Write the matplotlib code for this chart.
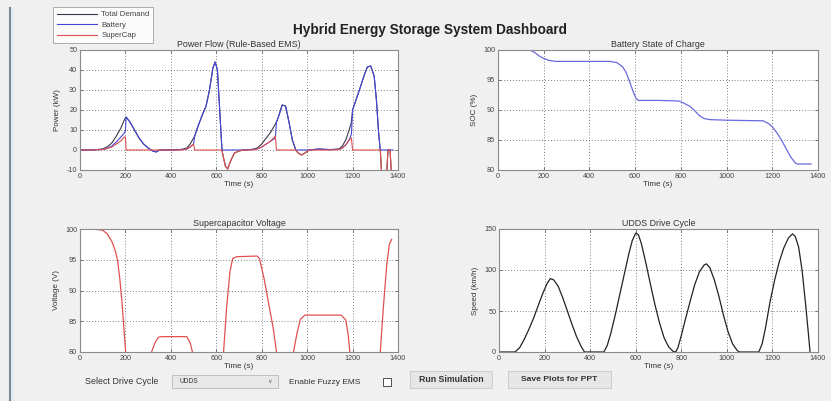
import matplotlib
matplotlib.use("Agg")
import matplotlib.pyplot as plt
from matplotlib.patches import Rectangle
from matplotlib.lines import Line2D

plt.rcParams["font.family"] = ["Liberation Sans", "DejaVu Sans"]
plt.rcParams["axes.unicode_minus"] = False

# Power flow (kW)
t_power = [0, 50, 100, 120, 140, 160, 180, 195, 200, 203, 220, 240, 260, 280, 300, 320, 335, 350,
           400, 450, 470, 485, 495, 500, 505, 520, 540, 555, 570, 585, 595, 605, 615, 625,
           630, 640, 650, 665, 680, 700, 720, 760, 780, 800, 820, 840, 860, 865, 875, 890,
           905, 920, 935, 950, 960, 975, 990, 1010, 1050, 1100, 1140, 1155, 1170, 1185, 1195,
           1200, 1215, 1230, 1250, 1265, 1280, 1295, 1305, 1315, 1322, 1328, 1350, 1356, 1365,
           1371, 1378]
demand = [0, 0, 0.5, 1.6, 3.5, 7, 11, 15, 16, 16.5, 14, 10, 6, 3, 1, -0.5, -1, 0,
          0, 0.3, 1, 3, 5, 6, 7, 12, 18, 22, 30, 41, 44, 40, 20, 0,
          -3, -8, -9.5, -5, -1.5, -0.5, 0, 0.3, 1, 3, 6, 9, 13, 14, 17, 22.5,
          22, 14, 5, 0, -1.5, -2.5, -1.5, 0, 0.5, 0.2, 0.5, 2, 5, 10, 14,
          20, 25, 30, 37, 41.5, 42, 37, 25, 8, 0, -12, -12, 0, 0,
          -12, -12]
battery = [0, 0, 0.3, 0.8, 2, 4, 6.5, 8.5, 9.5, 16.5, 14, 10, 6, 3, 1, -0.5, -1, 0,
           0, 0.3, 0.5, 1.5, 2.5, 3, 7, 12, 18, 22, 30, 41, 44, 40, 20, 0,
           0, 0, 0, 0, 0, 0, 0, 0.3, 0.5, 1.5, 3, 4.5, 6, 14, 17, 22.5,
           22, 14, 5, 0, 0, 0, 0, 0, 0.5, 0.2, 0.3, 1, 2.5, 5, 8,
           20, 25, 30, 37, 41.5, 42, 37, 25, 8, 0, 0, 0, 0, 0,
           0, 0]
supercap = [0, 0, 0.2, 0.8, 1.5, 3, 4.5, 6.5, 6.5, 0, 0, 0, 0, 0, 0, 0, 0, 0,
            0, 0, 0.5, 1.5, 2.5, 3, 0, 0, 0, 0, 0, 0, 0, 0, 0, 0,
            -3, -8, -9.5, -5, -1.5, -0.5, 0, 0, 0.5, 1.5, 3, 4.5, 7, 0, 0, 0,
            0, 0, 0, 0, -1.5, -2.5, -1.5, 0, 0, 0, 0.2, 1, 2.5, 5, 6,
            0, 0, 0, 0, 0, 0, 0, 0, 0, 0, -12, -12, 0, 0,
            -12, -12]

# Battery state of charge (%)
t_soc = [0, 140, 160, 180, 200, 220, 250, 300, 490, 520, 545, 560, 575, 590, 603, 615, 700,
         790, 810, 840, 860, 880, 900, 925, 1000, 1160, 1185, 1200, 1220, 1240, 1260, 1280,
         1300, 1310, 1370]
soc = [100, 100, 99.6, 99.0, 98.6, 98.3, 98.1, 98.1, 98.1, 97.9, 97.2, 96.3, 94.8, 93.2, 92.0,
       91.6, 91.6, 91.5, 91.2, 90.6, 89.9, 89.1, 88.6, 88.4, 88.3, 88.2, 87.7, 87.2, 86.2, 85.0,
       83.6, 82.2, 81.2, 81.0, 81.0]

# Supercapacitor voltage (V)
t_sc = [0, 60, 100, 120, 140, 155, 165, 175, 185, 195, 203, 210, 300, 315, 330, 345, 360, 470,
        485, 495, 505, 620, 632, 645, 660, 672, 690, 780, 790, 810, 830, 850, 865, 875, 930,
        940, 955, 970, 990, 1150, 1170, 1180, 1188, 1195, 1310, 1322, 1335, 1350, 1362, 1372]
v_sc = [100, 100, 99.8, 99.2, 98.0, 96.5, 95.0, 92.0, 88.0, 83.0, 79.0, 76, 76, 80, 81.5, 82.4,
        82.5, 82.5, 81.5, 80, 76, 76, 80, 87, 93, 95.2, 95.5, 95.6, 95.2, 92, 88, 84, 80, 76, 76,
        80, 83, 85.3, 86.0, 86.0, 85.2, 83, 80, 76, 76, 80, 87, 94, 97.5, 98.3]

# UDDS drive cycle speed (km/h)
t_drive = [0, 70, 90, 110, 130, 150, 170, 190, 210, 225, 240, 260, 280, 300, 320, 340, 360, 375,
           460, 475, 490, 510, 530, 550, 570, 585, 600, 612, 625, 645, 665, 685, 705, 725, 745,
           765, 775, 785, 800, 820, 840, 860, 880, 900, 910, 925, 945, 965, 985, 1005, 1025,
           1045, 1055, 1140, 1155, 1170, 1190, 1210, 1230, 1250, 1270, 1288, 1300, 1315, 1330,
           1345, 1358, 1365]
speed = [0, 0, 5, 15, 27, 40, 55, 70, 83, 89.5, 88, 80, 66, 50, 34, 19, 7, 0,
         0, 8, 22, 45, 70, 95, 120, 136, 145, 143, 132, 108, 82, 57, 35, 17, 6,
         0.5, 0, 5, 20, 42, 63, 83, 98, 106, 107.5, 103, 88, 68, 45, 25, 10,
         2, 0, 0, 10, 30, 62, 88, 110, 127, 139, 144, 141, 128, 100,
         60, 22, 0]

W, H = 831, 401
fig = plt.figure(figsize=(W / 100, H / 100), dpi=100, facecolor="#f0f0f0")


def box(x0, y0, x1, y1):
    return [x0 / W, 1 - y1 / H, (x1 - x0) / W, (y1 - y0) / H]


def style(ax, title, ylabel, ylim, yticks):
    ax.set_facecolor("white")
    ax.set_xlim(0, 1400)
    ax.set_xticks(range(0, 1401, 200))
    ax.set_ylim(*ylim)
    ax.set_yticks(yticks)
    ax.grid(True, color="#555555", linestyle=(0, (1, 2.5)), linewidth=0.6)
    ax.tick_params(labelsize=5.2, colors="#444444", direction="in", length=2.5, width=0.5,
                   top=True, right=True, pad=2)
    for s in ax.spines.values():
        s.set_color("#8a8a8a")
        s.set_linewidth(0.8)
    ax.set_title(title, fontsize=6.4, color="#333333", pad=2)
    ax.set_xlabel("Time (s)", fontsize=5.8, color="#333333", labelpad=1)
    ax.set_ylabel(ylabel, fontsize=5.8, color="#333333", labelpad=4)


ax1 = fig.add_axes(box(80, 50, 398, 170))
l1, = ax1.plot(t_power, demand, color="#3a3a4a", lw=0.8, label="Total Demand")
l2, = ax1.plot(t_power, battery, color="#4646d8", lw=0.8, label="Battery")
l3, = ax1.plot(t_power, supercap, color="#e05050", lw=0.8, label="SuperCap")
style(ax1, "Power Flow (Rule-Based EMS)", "Power (kW)", (-10, 50), range(-10, 51, 10))

ax2 = fig.add_axes(box(498, 50, 818, 170))
ax2.plot(t_soc, soc, color="#6a6ae0", lw=0.9)
style(ax2, "Battery State of Charge", "SOC (%)", (80, 100), range(80, 101, 5))

ax3 = fig.add_axes(box(80, 229, 398, 352))
ax3.plot(t_sc, v_sc, color="#e05050", lw=0.9)
style(ax3, "Supercapacitor Voltage", "Voltage (V)", (80, 100), range(80, 101, 5))

ax4 = fig.add_axes(box(499, 229, 818, 352))
ax4.plot(t_drive, speed, color="#222222", lw=0.9)
style(ax4, "UDDS Drive Cycle", "Speed (km/h)", (0, 150), range(0, 151, 50))

leg = fig.legend(handles=[l1, l2, l3], loc="upper left", bbox_to_anchor=(53 / W, 1 - 7 / H),
                 fontsize=5.6, frameon=True, fancybox=False, handlelength=5.2, borderpad=0.5,
                 labelspacing=0.4, handletextpad=0.5, borderaxespad=0)
leg.get_frame().set_edgecolor("#8a8a8a")
leg.get_frame().set_linewidth(0.6)
for txt in leg.get_texts():
    txt.set_color("#444444")

fig.text(430 / W, 1 - 30 / H, "Hybrid Energy Storage System Dashboard", ha="center",
         va="center", fontsize=9.8, fontweight="bold", color="#222222")

# left window border
fig.add_artist(Line2D([10 / W, 10 / W], [1 - 8 / H, 0], color="#7a8796", lw=1.5))
fig.add_artist(Rectangle((11 / W, 0), 3 / W, 1 - 8 / H, color="#e4ecf4", lw=0))

# bottom controls
fig.text(122 / W, 1 - 382 / H, "Select Drive Cycle", ha="center", va="center", fontsize=6.4,
         color="#333333")
fig.add_artist(Rectangle((172 / W, 1 - 388 / H), 106 / W, 13 / H, facecolor="#e8e8e8",
                         edgecolor="#b8b8b8", lw=0.6))
fig.text(180 / W, 1 - 381.5 / H, "UDDS", ha="left", va="center", fontsize=4.8, color="#333333")
fig.text(270 / W, 1 - 381.5 / H, "\u2228", ha="center", va="center", fontsize=4.5,
         color="#666666", family="DejaVu Sans")
fig.text(325 / W, 1 - 382 / H, "Enable Fuzzy EMS", ha="center", va="center", fontsize=6,
         color="#333333")
fig.add_artist(Rectangle((383 / W, 1 - 386 / H), 8 / W, 8 / H, facecolor="white",
                         edgecolor="#333333", lw=0.6))
fig.add_artist(Rectangle((410 / W, 1 - 388 / H), 82 / W, 17 / H, facecolor="#e6e6e6",
                         edgecolor="#c8c8c8", lw=0.6))
fig.text(451 / W, 1 - 379.5 / H, "Run Simulation", ha="center", va="center", fontsize=6.3,
         fontweight="bold", color="#333333")
fig.add_artist(Rectangle((508 / W, 1 - 388 / H), 103 / W, 17 / H, facecolor="#e6e6e6",
                         edgecolor="#c8c8c8", lw=0.6))
fig.text(559 / W, 1 - 379.5 / H, "Save Plots for PPT", ha="center", va="center", fontsize=6.1,
         fontweight="bold", color="#333333")

fig.savefig("out.png", dpi=100, facecolor=fig.get_facecolor())
